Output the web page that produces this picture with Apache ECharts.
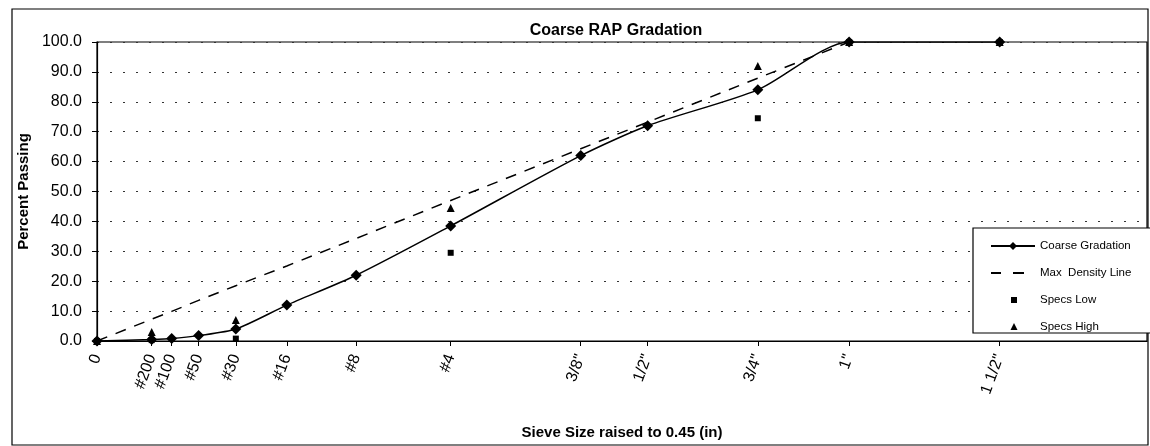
<!DOCTYPE html>
<html>
<head>
<meta charset="utf-8">
<script src="https://cdn.jsdelivr.net/npm/echarts@6/dist/echarts.min.js"></script>
<style>
html,body{margin:0;padding:0;background:#fff;}
#chart{width:1150px;height:446px;}
</style>
</head>
<body>
<div id="chart"></div>
<script>
// Sieve openings (inches) and their labels
var sieveSizes = [0, 0.00295, 0.0059, 0.0117, 0.0234, 0.0469, 0.0937, 0.187, 0.375, 0.5, 0.75, 1.0, 1.5];
var sieveLabels = ['0', '#200', '#100', '#50', '#30', '#16', '#8', '#4', '3/8"', '1/2"', '3/4"', '1"', '1 1/2"'];
// Percent passing
var coarseGradation = [0, 0.5, 0.8, 1.8, 4.0, 12.0, 22.0, 38.5, 62.0, 72.0, 84.0, 100, 100];
var maxDensityLine  = [0, 7.3, 9.9, 13.6, 18.5, 25.1, 34.3, 47.0, 64.3, 73.2, 87.9, 100, null];
var specsLow  = [0, 0.3, null, null, 0.8, null, null, 29.5, null, null, 74.5, 100, 100];
var specsHigh = [0, 3.0, null, null, 7.0, null, null, 44.5, null, null, 92.0, 100, 100];
var yTicks = [0, 10, 20, 30, 40, 50, 60, 70, 80, 90, 100];

// x axis is sieve size raised to 0.45
var sieveX = sieveSizes.map(function (s) { return Math.pow(s, 0.45); });
function pairs(vals) {
  var out = [];
  for (var i = 0; i < vals.length; i++) {
    if (vals[i] !== null) out.push([sieveX[i], vals[i]]);
  }
  return out;
}
var FONT = '"Liberation Sans", Arial, sans-serif';

var chart = echarts.init(document.getElementById('chart'), null, {renderer: 'canvas'});
chart.setOption({
  animation: false,
  backgroundColor: '#fff',
  title: {
    text: 'Coarse RAP Gradation',
    left: 611, top: 18, textAlign: 'center',
    textStyle: {fontFamily: FONT, fontSize: 16, fontWeight: 'bold', color: '#000'}
  },
  grid: {left: 97, right: 3, top: 42, bottom: 105, show: true, borderColor: '#000', borderWidth: 1.2, backgroundColor: 'transparent'},
  xAxis: {
    type: 'value', min: 0, max: 1.396,
    name: 'Sieve Size raised to 0.45 (in)',
    nameLocation: 'middle', nameGap: 84,
    nameTextStyle: {fontFamily: FONT, fontSize: 15, fontWeight: 'bold', color: '#000'},
    axisLine: {onZero: false, lineStyle: {color: '#000', width: 1.2}},
    axisTick: {show: true, inside: false, length: 5, customValues: sieveX, lineStyle: {color: '#000'}},
    axisLabel: {
      customValues: sieveX, rotate: 70, margin: 14,
      fontFamily: FONT, fontSize: 16, color: '#000',
      formatter: function (v) {
        for (var i = 0; i < sieveX.length; i++) if (Math.abs(sieveX[i] - v) < 1e-6) return sieveLabels[i];
        return '';
      }
    },
    splitLine: {show: false}
  },
  yAxis: {
    type: 'value', min: 0, max: 100, interval: 10,
    name: 'Percent Passing', nameLocation: 'middle', nameGap: 62,
    nameTextStyle: {fontFamily: FONT, fontSize: 15, fontWeight: 'bold', color: '#000'},
    axisLine: {show: true, lineStyle: {color: '#000', width: 1.2}},
    axisTick: {show: true, length: 5, lineStyle: {color: '#000'}},
    axisLabel: {
      margin: 15, fontFamily: FONT, fontSize: 16, color: '#000',
      formatter: function (v) { return yTicks.indexOf(v) >= 0 ? v.toFixed(1) : ''; }
    },
    splitLine: {show: true, lineStyle: {color: '#333', width: 1, type: [2, 11]}}
  },
  legend: {
    orient: 'vertical', left: 985, top: 235, z: 10,
    itemWidth: 44, itemHeight: 10, itemGap: 15,
    textStyle: {fontFamily: FONT, fontSize: 11.5, color: '#000'},
    data: [
      {name: 'Coarse Gradation'},
      {name: 'Max  Density Line', icon: 'path://M0,0 M44,10 M0,4 h10 v2 h-10 z M22,4 h11 v2 h-11 z'},
      {name: 'Specs Low', icon: 'path://M0,0 M44,10 M20,2 h6 v6 h-6 z'},
      {name: 'Specs High', icon: 'path://M0,0 M44,10 M23,1 L26.5,8 L19.5,8 Z'}
    ]
  },
  graphic: [
    {type: 'rect', z: 0, shape: {x: 12, y: 9, width: 1136, height: 436}, style: {fill: 'none', stroke: '#000', lineWidth: 1.2}},
    {type: 'rect', z: 8, shape: {x: 973, y: 228, width: 200, height: 105}, style: {fill: '#fff', stroke: '#000', lineWidth: 1.2}}
  ],
  series: [
    {
      name: 'Max  Density Line', type: 'line', data: pairs(maxDensityLine),
      symbol: 'none', smooth: false, z: 3,
      lineStyle: {color: '#000', width: 1.5, type: [11, 9]},
      itemStyle: {color: '#000'}
    },
    {
      name: 'Coarse Gradation', type: 'line', data: pairs(coarseGradation),
      symbol: 'diamond', symbolSize: 11, smooth: 0.25, z: 4,
      lineStyle: {color: '#000', width: 1.5},
      itemStyle: {color: '#000'}
    },
    {
      name: 'Specs Low', type: 'scatter', data: pairs(specsLow),
      symbol: 'rect', symbolSize: 6, z: 5,
      itemStyle: {color: '#000', opacity: 1}
    },
    {
      name: 'Specs High', type: 'scatter', data: pairs(specsHigh),
      symbol: 'triangle', symbolSize: 8, z: 5,
      itemStyle: {color: '#000', opacity: 1}
    }
  ]
});
</script>
</body>
</html>
